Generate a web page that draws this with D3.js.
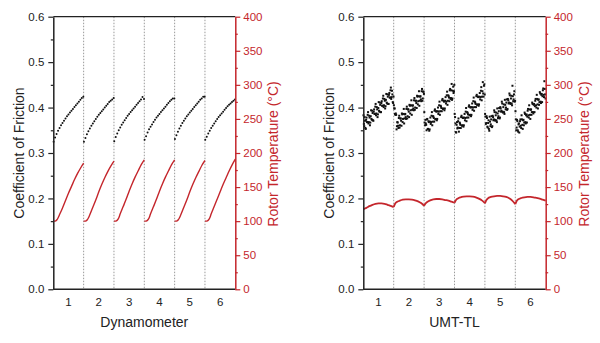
<!DOCTYPE html>
<html><head><meta charset="utf-8">
<script src="https://cdn.jsdelivr.net/npm/d3@7/dist/d3.min.js"></script>
<style>
body{margin:0;background:#fff}
svg{display:block}
text{font-family:"Liberation Sans",Arial,Helvetica,sans-serif}
</style>
</head><body>
<svg id="chart" width="600" height="343"></svg>
<script>
// ---------- data ----------
const cycles = [1, 2, 3, 4, 5, 6];
const cycleLabels = ["1", "2", "3", "4", "5", "6"];
const dividers = [1.5, 2.5, 3.5, 4.5, 5.5];
const cofTicks = [0, 0.1, 0.2, 0.3, 0.4, 0.5, 0.6];
const cofMinorTicks = [0.05, 0.15, 0.25, 0.35, 0.45, 0.55];
const tempTicks = [0, 50, 100, 150, 200, 250, 300, 350, 400];
const tempMinorTicks = [25, 75, 125, 175, 225, 275, 325, 375];
const panelTitles = ["Dynamometer", "UMT-TL"];

// Dynamometer: rotor temperature (°C) at fractions of each cycle
const dynTempFrac = [0, 0.04, 0.08, 0.12, 0.16, 0.2, 0.3, 0.4, 0.5, 0.6, 0.7, 0.8, 0.9, 1.0];
const dynTemp = [
  [100, 100, 100.5, 102, 105, 109, 119, 130, 141, 151, 161, 170, 178, 185],
  [100, 100, 100.5, 102, 105, 109, 120, 131, 143, 154, 164, 173, 181, 188],
  [100, 100, 100.5, 102, 105, 110, 121, 132, 144, 155, 165, 174, 183, 190],
  [100, 100, 100.5, 102, 105, 110, 121, 132, 144, 155, 165, 174, 183, 190],
  [100, 100, 100.5, 102, 105, 109, 120, 131, 143, 154, 164, 173, 182, 189],
  [100, 100, 100.5, 102, 105, 110, 121, 132, 143, 154, 164, 174, 183, 191]
];
// Dynamometer: coefficient of friction, 21 samples per cycle
const dynCof = [
  [0.325,0.334,0.342,0.349,0.355,0.361,0.366,0.371,0.376,0.381,0.385,0.389,0.393,0.397,0.401,0.405,0.409,0.413,0.417,0.421,0.424],
  [0.325,0.333,0.341,0.348,0.354,0.360,0.365,0.370,0.375,0.380,0.384,0.388,0.392,0.396,0.400,0.404,0.408,0.412,0.415,0.418,0.421],
  [0.326,0.335,0.343,0.350,0.356,0.362,0.367,0.372,0.377,0.382,0.386,0.390,0.394,0.398,0.402,0.406,0.410,0.414,0.418,0.423,0.419],
  [0.329,0.337,0.345,0.352,0.358,0.363,0.368,0.373,0.378,0.382,0.386,0.390,0.394,0.398,0.402,0.406,0.410,0.414,0.417,0.420,0.420],
  [0.331,0.339,0.347,0.354,0.360,0.366,0.371,0.376,0.381,0.385,0.389,0.393,0.397,0.401,0.405,0.409,0.413,0.417,0.420,0.424,0.424],
  [0.329,0.336,0.343,0.349,0.355,0.360,0.365,0.370,0.375,0.379,0.383,0.387,0.391,0.395,0.399,0.403,0.406,0.409,0.412,0.415,0.418]
];

// UMT-TL: rotor temperature (°C) at fractions of each cycle
const umtTempFrac = [0, 0.05, 0.1, 0.2, 0.3, 0.4, 0.5, 0.6, 0.7, 0.8, 0.9, 1.0];
const umtTemp = [
  [117.5, 118.5, 119.5, 122, 124, 125.5, 126, 126, 125.5, 124, 122.5, 120.5],
  [121, 126, 128, 130, 131.5, 132, 132, 131.5, 130.5, 129, 126.5, 122.5],
  [122.5, 126, 128, 130.5, 132, 132.5, 132.5, 132, 131, 130, 128.5, 127],
  [127, 131, 133, 135, 136, 136.5, 136.5, 136, 135, 133, 130.5, 126.5],
  [126, 131, 133.5, 135.5, 136.5, 137, 137, 136.5, 135.5, 133.5, 130, 125],
  [125, 130, 132, 134, 135, 135.5, 135.5, 135, 134, 133, 131.5, 130]
];
// UMT-TL: coefficient of friction scatter, two interleaved sample runs of 40 per cycle
const umtCofA = [
  [0.383,0.359,0.371,0.353,0.378,0.368,0.390,0.368,0.378,0.367,0.394,0.373,0.388,0.371,0.396,0.386,0.408,0.387,0.396,0.385,
   0.412,0.391,0.406,0.390,0.414,0.404,0.426,0.405,0.415,0.403,0.430,0.409,0.424,0.408,0.432,0.422,0.444,0.423,0.429,0.410],
  [0.405,0.398,0.384,0.384,0.359,0.367,0.355,0.382,0.361,0.376,0.360,0.385,0.375,0.397,0.376,0.386,0.375,0.402,0.381,0.396,
   0.379,0.404,0.394,0.416,0.395,0.405,0.394,0.421,0.400,0.415,0.399,0.424,0.414,0.436,0.415,0.425,0.414,0.441,0.420,0.435],
  [0.390,0.361,0.365,0.350,0.375,0.353,0.368,0.352,0.378,0.368,0.390,0.369,0.380,0.369,0.396,0.375,0.391,0.375,0.400,0.391,
   0.413,0.392,0.402,0.392,0.419,0.398,0.413,0.398,0.423,0.413,0.435,0.415,0.425,0.414,0.441,0.421,0.452,0.420,0.446,0.436],
  [0.386,0.365,0.345,0.368,0.356,0.376,0.355,0.365,0.355,0.382,0.361,0.377,0.361,0.386,0.377,0.399,0.378,0.388,0.378,0.405,
   0.384,0.400,0.384,0.409,0.400,0.422,0.401,0.411,0.401,0.428,0.407,0.423,0.407,0.432,0.423,0.445,0.424,0.456,0.424,0.451],
  [0.386,0.364,0.381,0.358,0.366,0.353,0.380,0.359,0.374,0.357,0.382,0.372,0.394,0.373,0.383,0.372,0.398,0.377,0.392,0.376,
   0.401,0.391,0.413,0.391,0.401,0.390,0.417,0.396,0.411,0.395,0.419,0.409,0.431,0.410,0.420,0.409,0.448,0.414,0.429,0.413],
  [0.392,0.350,0.373,0.350,0.363,0.345,0.370,0.360,0.383,0.362,0.372,0.361,0.389,0.368,0.383,0.367,0.393,0.383,0.405,0.384,
   0.395,0.384,0.411,0.390,0.406,0.390,0.415,0.405,0.428,0.407,0.417,0.406,0.434,0.413,0.428,0.412,0.438,0.428,0.458,0.429]
];
const umtCofB = [
  [0.364,0.379,0.355,0.373,0.368,0.384,0.365,0.382,0.361,0.381,0.375,0.393,0.372,0.391,0.386,0.402,0.383,0.401,0.379,0.399,
   0.393,0.411,0.390,0.410,0.404,0.420,0.401,0.419,0.398,0.417,0.411,0.429,0.408,0.428,0.422,0.438,0.419,0.437,0.412,0.424],
  [0.398,0.386,0.387,0.352,0.368,0.360,0.377,0.356,0.376,0.371,0.387,0.368,0.386,0.365,0.385,0.379,0.397,0.376,0.396,0.391,
   0.406,0.387,0.405,0.384,0.404,0.398,0.416,0.395,0.415,0.410,0.426,0.407,0.425,0.404,0.424,0.418,0.436,0.415,0.435,0.430],
  [0.367,0.373,0.362,0.374,0.353,0.370,0.349,0.369,0.364,0.382,0.361,0.381,0.377,0.393,0.374,0.392,0.372,0.392,0.386,0.405,
   0.384,0.404,0.399,0.416,0.397,0.415,0.394,0.415,0.409,0.427,0.406,0.427,0.422,0.438,0.419,0.438,0.417,0.437,0.432,0.450],
  [0.379,0.346,0.362,0.354,0.370,0.347,0.367,0.362,0.379,0.360,0.378,0.358,0.378,0.372,0.391,0.370,0.390,0.385,0.402,0.383,
   0.401,0.381,0.401,0.395,0.414,0.393,0.413,0.408,0.425,0.406,0.424,0.404,0.424,0.418,0.437,0.416,0.436,0.431,0.448,0.429],
  [0.380,0.366,0.377,0.356,0.372,0.349,0.369,0.363,0.381,0.359,0.379,0.374,0.390,0.371,0.389,0.368,0.387,0.381,0.399,0.378,
   0.398,0.393,0.409,0.389,0.407,0.386,0.406,0.400,0.418,0.397,0.416,0.411,0.427,0.408,0.426,0.405,0.425,0.418,0.436,0.415],
  [0.374,0.356,0.370,0.347,0.365,0.358,0.374,0.355,0.374,0.353,0.373,0.367,0.386,0.365,0.385,0.380,0.397,0.378,0.396,0.375,
   0.396,0.390,0.408,0.387,0.408,0.403,0.419,0.400,0.419,0.398,0.418,0.412,0.431,0.410,0.430,0.425,0.442,0.423,0.441,0.420]
];

// ---------- drawing ----------
const RED = "#c4262c";
const svg = d3.select("#chart");
const plotTop = 16.7, plotBottom = 289.3;
const panels = [
  {left: 53.3, right: 235.3, title: panelTitles[0], kind: "dyn"},
  {left: 363.3, right: 545.7, title: panelTitles[1], kind: "umt"}
];

panels.forEach(p => {
  const g = svg.append("g");
  const x = d3.scaleLinear().domain([0.5, 6.5]).range([p.left, p.right]);
  const yC = d3.scaleLinear().domain([0, 0.6]).range([plotBottom, plotTop]);
  const yT = d3.scaleLinear().domain([0, 400]).range([plotBottom, plotTop]);

  // dividers
  g.selectAll(".div").data(dividers).join("line")
    .attr("x1", d => x(d)).attr("x2", d => x(d))
    .attr("y1", plotTop).attr("y2", plotBottom)
    .attr("stroke", "#9a9a9a").attr("stroke-width", 1)
    .attr("stroke-dasharray", "1.5,1.5");

  // data
  if (p.kind === "dyn") {
    cycles.forEach((c, i) => {
      const pts = dynCof[i].map((v, j) => [c - 0.5 + 0.01 + j * 0.98 / (dynCof[i].length - 1), v]);
      g.append("g").selectAll("circle").data(pts).join("circle")
        .attr("cx", d => x(d[0])).attr("cy", d => yC(d[1])).attr("r", 1).attr("fill", "#111");
      const tpts = dynTemp[i].map((v, j) => [c - 0.5 + dynTempFrac[j], v]);
      g.append("path").datum(tpts)
        .attr("d", d3.line().x(d => x(d[0])).y(d => yT(d[1])).curve(d3.curveMonotoneX))
        .attr("fill", "none").attr("stroke", RED).attr("stroke-width", 1.4);
    });
  } else {
    cycles.forEach((c, i) => {
      const n = umtCofA[i].length;
      const pts = umtCofA[i].map((v, j) => [c - 0.5 + (j + 0.25) / n, v])
        .concat(umtCofB[i].map((v, j) => [c - 0.5 + (j + 0.75) / n, v]));
      g.append("g").selectAll("rect").data(pts).join("rect")
        .attr("x", d => x(d[0]) - 1).attr("y", d => yC(d[1]) - 1)
        .attr("width", 2).attr("height", 2).attr("fill", "#111");
      const tpts = umtTemp[i].map((v, j) => [c - 0.5 + umtTempFrac[j], v]);
      g.append("path").datum(tpts)
        .attr("d", d3.line().x(d => x(d[0])).y(d => yT(d[1])).curve(d3.curveMonotoneX))
        .attr("fill", "none").attr("stroke", RED).attr("stroke-width", 1.8);
    });
  }

  // frame top & bottom
  g.append("line").attr("x1", p.left).attr("x2", p.right).attr("y1", plotTop).attr("y2", plotTop)
    .attr("stroke", "#222").attr("stroke-width", 1.3);
  g.append("line").attr("x1", p.left).attr("x2", p.right).attr("y1", plotBottom).attr("y2", plotBottom)
    .attr("stroke", "#222").attr("stroke-width", 1.5);

  // left axis
  const la = g.append("g").attr("transform", `translate(${p.left},0)`)
    .call(d3.axisLeft(yC).tickValues(cofTicks).tickFormat(d3.format(".1f")).tickSize(5).tickSizeOuter(0).tickPadding(4));
  la.select(".domain").attr("stroke", "#222").attr("stroke-width", 1.5);
  la.selectAll(".tick line").attr("stroke", "#222").attr("stroke-width", 1.2);
  la.selectAll("text").attr("font-size", 11.5).attr("fill", "#222");
  const lm = g.append("g").attr("transform", `translate(${p.left},0)`)
    .call(d3.axisLeft(yC).tickValues(cofMinorTicks).tickFormat("").tickSize(2.5).tickSizeOuter(0));
  lm.select(".domain").remove();
  lm.selectAll(".tick line").attr("stroke", "#222").attr("stroke-width", 1.2);

  // right axis
  const ra = g.append("g").attr("transform", `translate(${p.right},0)`)
    .call(d3.axisRight(yT).tickValues(tempTicks).tickSize(5).tickSizeOuter(0).tickPadding(3));
  ra.select(".domain").attr("stroke", RED).attr("stroke-width", 1.5);
  ra.selectAll(".tick line").attr("stroke", RED).attr("stroke-width", 1.2);
  ra.selectAll("text").attr("font-size", 11.5).attr("fill", RED);
  const rm = g.append("g").attr("transform", `translate(${p.right},0)`)
    .call(d3.axisRight(yT).tickValues(tempMinorTicks).tickFormat("").tickSize(2.5).tickSizeOuter(0));
  rm.select(".domain").remove();
  rm.selectAll(".tick line").attr("stroke", RED).attr("stroke-width", 1.2);

  // x labels (no tick marks)
  g.selectAll(".xl").data(cycles).join("text")
    .attr("x", d => x(d)).attr("y", 306).attr("text-anchor", "middle")
    .attr("font-size", 11.5).attr("fill", "#222").text((d, i) => cycleLabels[i]);

  // titles
  g.append("text").attr("x", (p.left + p.right) / 2).attr("y", 327).attr("text-anchor", "middle")
    .attr("font-size", 14).attr("fill", "#222").text(p.title);
  g.append("text").attr("transform", `translate(${p.left - 34},${(plotTop + plotBottom) / 2}) rotate(-90)`)
    .attr("text-anchor", "middle").attr("dy", "0.35em")
    .attr("font-size", 14).attr("fill", "#222").text("Coefficient of Friction");
  g.append("text").attr("transform", `translate(${p.right + 38},${(plotTop + plotBottom) / 2 + 1}) rotate(-90)`)
    .attr("text-anchor", "middle").attr("dy", "0.35em")
    .attr("font-size", 14).attr("fill", RED).text("Rotor Temperature (°C)");
});
</script>
</body></html>
